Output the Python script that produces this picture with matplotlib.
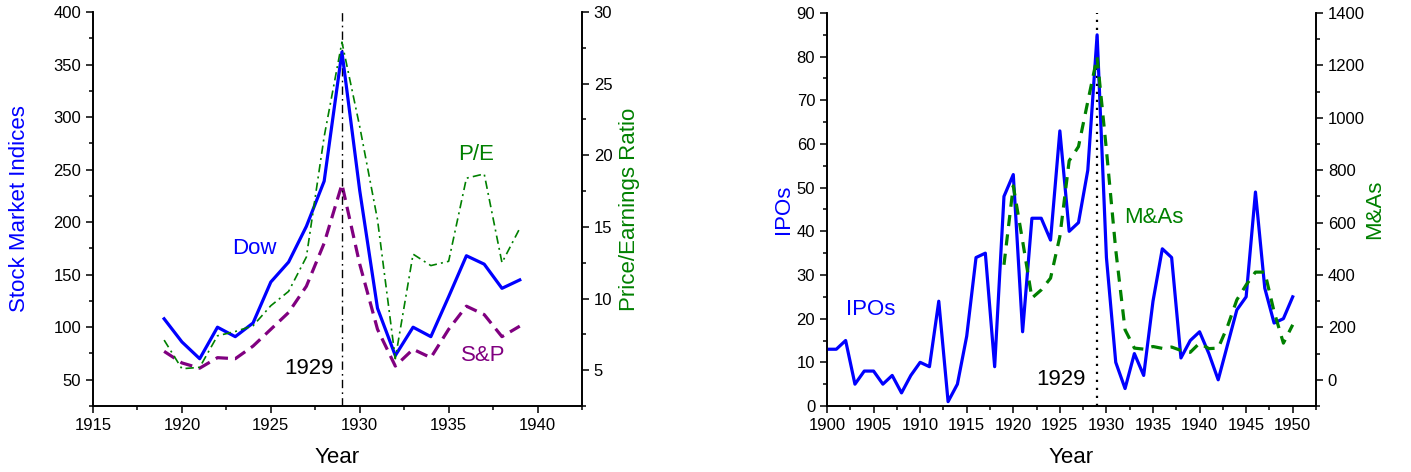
import matplotlib
matplotlib.use("Agg")
import matplotlib.pyplot as plt
from matplotlib.ticker import MultipleLocator

plt.rcParams['font.family'] = ['Liberation Sans', 'DejaVu Sans']

# ---- Left panel data ----
years_a = list(range(1919, 1940))
dow = [108, 86, 70, 100, 91, 104, 143, 162, 196, 239, 362, 230, 118, 73, 100, 91, 129, 168, 160, 137, 145]
sp = [77, 66, 61, 71, 70, 82, 98, 114, 139, 180, 236, 160, 98, 63, 79, 71, 98, 120, 112, 91, 101]
pe = [7.1, 5.1, 5.2, 7.4, 7.7, 8.1, 9.5, 10.5, 12.9, 21.3, 27.9, 22.0, 15.5, 5.8, 13.1, 12.3, 12.6, 18.4, 18.7, 12.5, 14.9]

# ---- Right panel data ----
years_ipo = list(range(1900, 1951))
ipos = [13, 13, 15, 5, 8, 8, 5, 7, 3, 7, 10, 9, 24, 1, 5, 16, 34, 35, 9, 48,
        53, 17, 43, 43, 38, 63, 40, 42, 54, 85, 34, 10, 4, 12, 7, 24, 36, 34, 11, 15,
        17, 12, 6, 14, 22, 25, 49, 27, 19, 20, 25]
years_ma = list(range(1919, 1951))
mas = [439, 740, 530, 312, 343, 388, 547, 836, 890, 1062, 1232, 877, 496, 191, 121, 117,
       127, 120, 125, 112, 105, 140, 119, 121, 204, 305, 362, 411, 411, 260, 140, 210]

crisis_year = 1929

W, H = 1411, 472
fig = plt.figure(figsize=(W / 100, H / 100), dpi=100)

blue = '#0000ff'
green = '#008000'
purple = '#800080'
tick_fs = 12
lab_fs = 16


def style_axis(ax):
    ax.tick_params(which='major', direction='out', length=5, width=1.1, labelsize=tick_fs)
    ax.tick_params(which='minor', direction='out', length=2.8, width=1.1)
    for s in ax.spines.values():
        s.set_linewidth(1.2)
    ax.spines['top'].set_visible(False)


# ---------------- Left panel ----------------
ax1 = fig.add_axes([93 / W, 1 - 406 / H, 489 / W, 394 / H])
ax1b = ax1.twinx()
ax1.plot(years_a, dow, color=blue, lw=2.3, zorder=3)
ax1.plot(years_a, sp, color=purple, lw=2.3, dashes=(3.9, 2.2), zorder=2)
ax1b.plot(years_a, pe, color=green, lw=1.2, dashes=(5, 2.5, 1.2, 2.5))
ax1.axvline(crisis_year, color='black', lw=1.0, dashes=(6, 3, 1.2, 3))

ax1.set_xlim(1915, 1942.5)
ax1.set_ylim(25, 400)
ax1b.set_ylim(2.5, 30)
ax1.xaxis.set_major_locator(MultipleLocator(5))
ax1.xaxis.set_minor_locator(MultipleLocator(2.5))
ax1.yaxis.set_major_locator(MultipleLocator(50))
ax1.yaxis.set_minor_locator(MultipleLocator(25))
ax1b.yaxis.set_major_locator(MultipleLocator(5))
ax1b.yaxis.set_minor_locator(MultipleLocator(2.5))
style_axis(ax1)
style_axis(ax1b)
ax1.set_xlabel('Year', fontsize=lab_fs, labelpad=10)
ax1.set_ylabel('Stock Market Indices', fontsize=lab_fs, color=blue)
ax1b.set_ylabel('Price/Earnings Ratio', fontsize=lab_fs, color=green)
ax1.yaxis.set_label_coords((30 - 93) / 489, 0.5)
ax1b.yaxis.set_label_coords((619 - 93) / 489, 0.5)

ax1.text(1922.8, 175, 'Dow', color=blue, fontsize=lab_fs, va='center', ha='left')
ax1.text(1935.55, 264, 'P/E', color=green, fontsize=lab_fs, va='center', ha='left')
ax1.text(1935.7, 73, 'S&P', color=purple, fontsize=lab_fs, va='center', ha='left')
ax1.text(1928.55, 61, '1929', color='black', fontsize=lab_fs, va='center', ha='right')

# ---------------- Right panel ----------------
ax2 = fig.add_axes([827 / W, 1 - 406 / H, 489 / W, 393 / H])
ax2b = ax2.twinx()
ax2.plot(years_ipo, ipos, color=blue, lw=2.3, zorder=3)
ax2b.plot(years_ma, mas, color=green, lw=2.3, dashes=(3.5, 2.6))
ax2.axvline(crisis_year, color='black', lw=1.6, dashes=(1, 2.6))

ax2.set_xlim(1900, 1952.5)
ax2.set_ylim(0, 90)
ax2b.set_ylim(-100, 1400)
ax2.xaxis.set_major_locator(MultipleLocator(5))
ax2.xaxis.set_minor_locator(MultipleLocator(2.5))
ax2.yaxis.set_major_locator(MultipleLocator(10))
ax2.yaxis.set_minor_locator(MultipleLocator(5))
ax2b.yaxis.set_major_locator(MultipleLocator(200))
ax2b.yaxis.set_minor_locator(MultipleLocator(100))
style_axis(ax2)
style_axis(ax2b)
ax2.set_xlabel('Year', fontsize=lab_fs, labelpad=10)
ax2.set_ylabel('IPOs', fontsize=lab_fs, color=blue)
ax2b.set_ylabel('M&As', fontsize=lab_fs, color=green)
ax2.yaxis.set_label_coords((794 - 827) / 489, 0.5)
ax2b.yaxis.set_label_coords((1364 - 827) / 489, 0.5)

ax2.text(1902, 22, 'IPOs', color=blue, fontsize=lab_fs, va='center', ha='left')
ax2.text(1931.9, 43.2, 'M&As', color=green, fontsize=lab_fs, va='center', ha='left')
ax2.text(1927.8, 6, '1929', color='black', fontsize=lab_fs, va='center', ha='right')

fig.savefig('out.png', dpi=100)
